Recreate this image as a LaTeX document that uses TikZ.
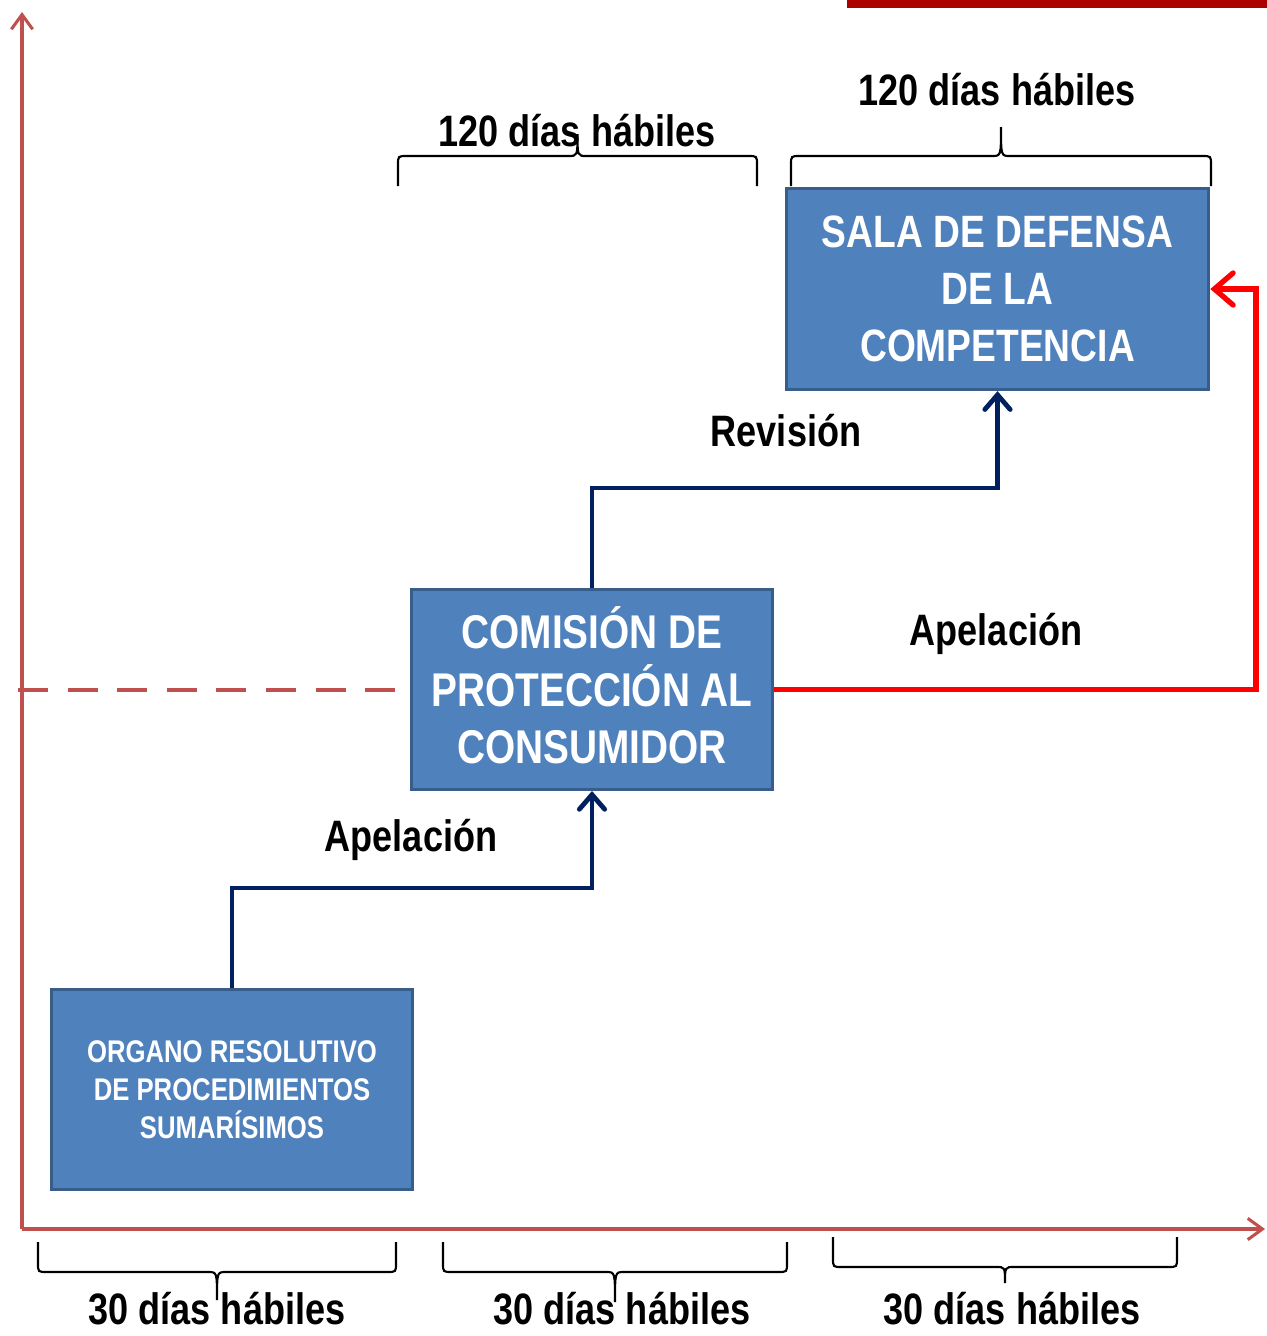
\documentclass[tikz,border=0pt]{standalone}
\usepackage{fontspec}
\setmainfont[FakeStretch=0.82]{Liberation Sans}
\usepackage{tikz}
\usetikzlibrary{arrows.meta, calc, positioning}
\definecolor{axisred}{HTML}{C0504D}
\definecolor{boxblue}{HTML}{4F81BD}
\definecolor{boxedge}{HTML}{385D8A}
\definecolor{navy}{HTML}{002060}
\definecolor{barred}{HTML}{AA0000}
\tikzstyle{block} = [rectangle, draw=boxedge, fill=boxblue, line width=2.2pt,
  text=white, align=center, font=\bfseries\fontsize{34}{43}\selectfont,
  minimum width=271pt, minimum height=150pt, inner sep=0pt]
\tikzstyle{sblock} = [block, font=\bfseries\fontsize{23.5}{28.5}\selectfont]
\tikzstyle{line} = [draw=navy, -{Straight Barb[length=11pt,width=19pt,line cap=round]}, line width=3.6pt]
\tikzstyle{rline} = [draw=red, -{Straight Barb[length=14pt,width=24pt,line cap=round]}, line width=4pt]
\tikzstyle{axis} = [draw=axisred, -{Straight Barb[length=11pt,width=16pt]}, line width=2.3pt]
\tikzstyle{dashline} = [draw=axisred, line width=3pt, dash pattern=on 22.5pt off 14.7pt]
\tikzstyle{lbl} = [font=\bfseries\fontsize{33}{40}\selectfont, inner sep=0pt]
\tikzstyle{brc} = [draw=black, line width=1.6pt]
% square brace: start, end, bar offset, tip offset (px, signed)
\newcommand{\dbrace}[4]{%
  \path (#1) -- (#2) coordinate[pos=0.5] (#1m);
  \draw [brc] (#1) -- ($(#1)+(0,{0.7*#3})$)
    .. controls ($(#1)+(0,#3)$) .. ($(#1)+({0.3*abs(#3)},#3)$)
    -- ($(#1m)+({-0.3*abs(#3)},#3)$)
    .. controls ($(#1m)+(0,#3)$) .. ($(#1m)+(0,{#3+#4})$)
    .. controls ($(#1m)+(0,#3)$) .. ($(#1m)+({0.3*abs(#3)},#3)$)
    -- ($(#2)+({-0.3*abs(#3)},#3)$)
    .. controls ($(#2)+(0,#3)$) .. ($(#2)+(0,{0.7*#3})$) -- (#2);}

\begin{document}
\begin{tikzpicture}[x=0.75pt, y=-0.75pt]
    \useasboundingbox (0,0) rectangle (1267,1336);
    \fill [barred] (847,0) rectangle (1267,8);

    % axes
    \coordinate (origin) at (22,1229);
    \coordinate (ytop) at (22,12);
    \coordinate (xend) at (1265,1229);
    \path [axis] (origin) -- (ytop);
    \path [axis] (origin) -- (xend);

    \node [sblock] (organo) at (232,1089.5)
      {ORGANO RESOLUTIVO\\DE PROCEDIMIENTOS\\SUMAR\'ISIMOS};
    \node [block, font=\bfseries\fontsize{35.5}{43}\selectfont] (comision) at (592,689.5)
      {\raisebox{0pt}[0.72em][0pt]{COMISI\'ON DE}\\PROTECCI\'ON AL\\CONSUMIDOR};
    \node [block, minimum width=317pt, minimum height=151pt] (sala) at (997.5,289)
      {SALA DE DEFENSA\\DE LA\\COMPETENCIA};

    \node [lbl] (apel1) at (411,840) {Apelaci\'on};
    \node [lbl] (revision) at (786,431) {Revisi\'on};
    \node [lbl] (apel2) at (996,634) {Apelaci\'on};

    \coordinate (dashstart) at (18,689.5);
    \coordinate (dashend) at (396,689.5);
    \path [dashline] (dashstart) -- (dashend);

    \path [line] (organo.north) -- ++(0,-100) -| (comision.south);
    \path [line] (comision.north) -- ++(0,-100) -| (sala.south);
    \path [rline] (comision.east) -- ++(482,0) |- (sala.east);

    % braces above
    \coordinate (t1a) at (398,186);
    \coordinate (t1b) at (757,186);
    \coordinate (t2a) at (791,186);
    \coordinate (t2b) at (1211,186);
    \dbrace{t1a}{t1b}{-30}{-22}
    \dbrace{t2a}{t2b}{-30}{-29}
    \node [lbl] (top1) at (577,131) {120 d\'ias h\'abiles};
    \node [lbl] (top2) at (997,90) {120 d\'ias h\'abiles};

    % braces below
    \coordinate (b1a) at (38,1242);
    \coordinate (b1b) at (396,1242);
    \coordinate (b2a) at (443,1242);
    \coordinate (b2b) at (787,1242);
    \coordinate (b3a) at (833,1237);
    \coordinate (b3b) at (1177,1237);
    \dbrace{b1a}{b1b}{30}{28}
    \dbrace{b2a}{b2b}{30}{30}
    \dbrace{b3a}{b3b}{30}{16}
    \node [lbl] (bot1) at (217,1309) {30 d\'ias h\'abiles};
    \node [lbl] (bot2) at (622,1309) {30 d\'ias h\'abiles};
    \node [lbl] (bot3) at (1012,1309) {30 d\'ias h\'abiles};
\end{tikzpicture}
\end{document}
